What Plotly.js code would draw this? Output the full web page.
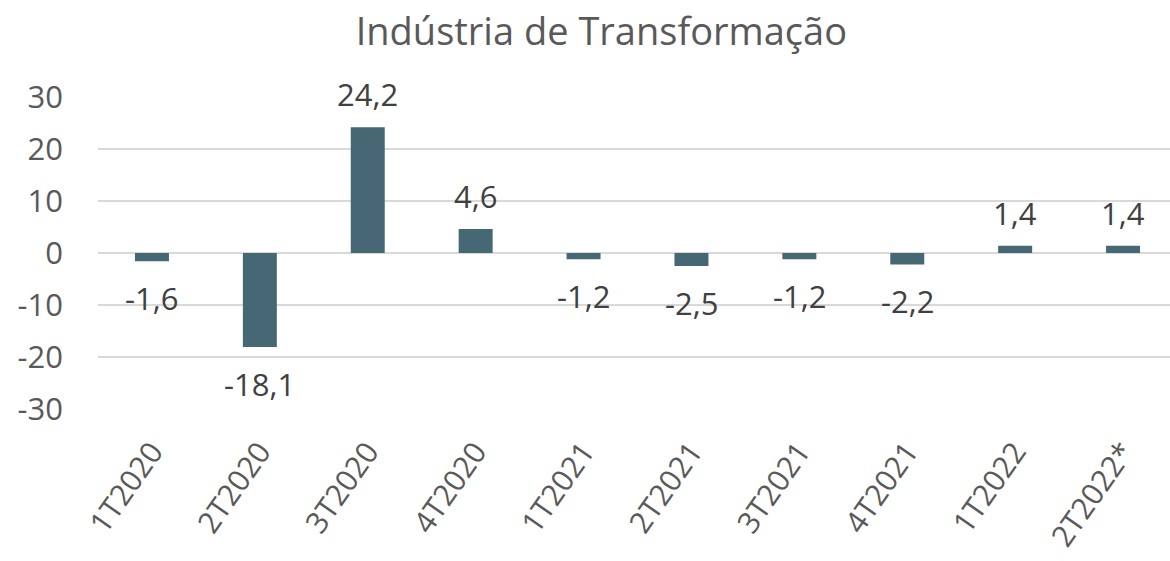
<!DOCTYPE html>
<html>
<head>
<meta charset="utf-8">
<script src="https://cdn.plot.ly/plotly-3.0.1.min.js"></script>
<style>html,body{margin:0;padding:0;background:#fff;}#chart{width:1170px;height:561px;}</style>
</head>
<body>
<div id="chart"></div>
<script>
const categories = ["1T2020","2T2020","3T2020","4T2020","1T2021","2T2021","3T2021","4T2021","1T2022","2T2022*"];
const values = [-1.6, -18.1, 24.2, 4.6, -1.2, -2.5, -1.2, -2.2, 1.4, 1.4];
const labels = values.map(v => v.toFixed(1).replace('.', ','));
const yTicks = [-30, -20, -10, 0, 10, 20, 30];

const FONT = 'Open Sans, sans-serif';

const trace = {
  type: 'bar',
  x: categories.map((c, i) => i),
  y: values,
  marker: {color: '#466875'},
  width: 0.315,
  hoverinfo: 'none'
};

const annotations = values.map((v, i) => ({
  x: i, y: v, xref: 'x', yref: 'y',
  text: labels[i], showarrow: false,
  xanchor: 'center', yanchor: 'middle',
  yshift: v >= 0 ? 33 : -37,
  font: {family: FONT, size: 31, color: '#404040'}
}));

const layout = {
  width: 1170, height: 561,
  margin: {l: 98, r: 0, t: 97, b: 152},
  paper_bgcolor: '#fff', plot_bgcolor: '#fff',
  showlegend: false,
  annotations: annotations,
  title: {text: 'Indústria de Transformação', x: 0.514, xanchor: 'center', y: 0.944, yanchor: 'middle',
          font: {family: FONT, size: 38, color: '#595959'}},
  xaxis: {
    range: [-0.5, 9.435],
    tickmode: 'array', tickvals: categories.map((c, i) => i), ticktext: categories,
    tickangle: -55, showgrid: false, zeroline: false, showline: false, ticks: '',
    tickfont: {family: FONT, size: 30, color: '#595959'},
    ticklabelstandoff: 18
  },
  yaxis: {
    range: [-30, 30],
    tickmode: 'array', tickvals: yTicks, ticktext: yTicks.map(String),
    showgrid: true, gridcolor: '#d9d9d9', gridwidth: 2,
    zeroline: true, zerolinecolor: '#d9d9d9', zerolinewidth: 2,
    showline: false, ticks: '',
    tickfont: {family: FONT, size: 31, color: '#595959'},
    ticklabelstandoff: 34
  },
  font: {family: FONT}
};

Plotly.newPlot('chart', [trace], layout, {staticPlot: true, displayModeBar: false});
</script>
</body>
</html>
